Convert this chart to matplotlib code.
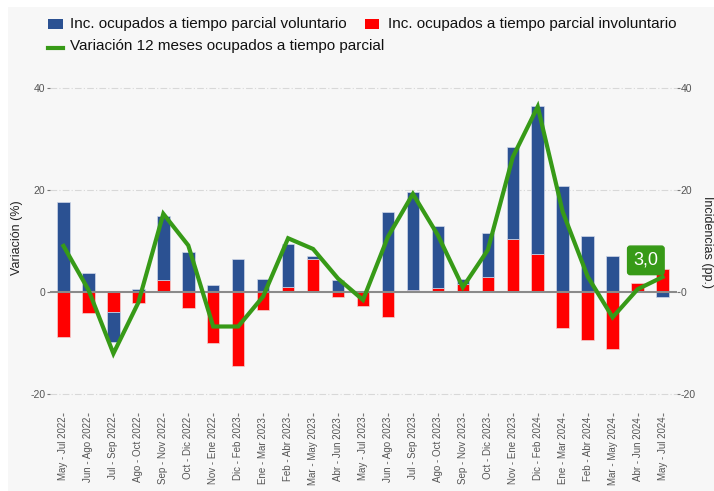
import matplotlib
matplotlib.use("Agg")
import matplotlib.pyplot as plt
from matplotlib.patches import Rectangle
from matplotlib.lines import Line2D
import numpy as np

plt.rcParams['font.family'] = ['Liberation Sans', 'DejaVu Sans']

categories = [
    "May - Jul 2022", "Jun - Ago 2022", "Jul - Sep 2022", "Ago - Oct 2022",
    "Sep - Nov 2022", "Oct - Dic 2022", "Nov - Ene 2022", "Dic - Feb 2023",
    "Ene - Mar 2023", "Feb - Abr 2023", "Mar - May 2023", "Abr - Jun 2023",
    "May - Jul 2023", "Jun - Ago 2023", "Jul - Sep 2023", "Ago - Oct 2023",
    "Sep - Nov 2023", "Oct - Dic 2023", "Nov - Ene 2023", "Dic - Feb 2024",
    "Ene - Mar 2024", "Feb - Abr 2024", "Mar - May 2024", "Abr - Jun 2024",
    "May - Jul 2024",
]
voluntario = [17.8, 3.7, -5.9, 0.65, 12.5, 8.0, 1.4, 6.6, 2.6, 8.5, 0.6, 2.4, 0.26,
              15.7, 19.1, 12.1, 1.1, 8.6, 17.9, 28.9, 20.8, 11.0, 7.1, 0.0, -0.85]
involuntario = [-8.8, -4.0, -3.9, -2.0, 2.5, -3.0, -9.9, -14.4, -3.4, 1.0, 6.5, -1.0, -2.6,
                -4.8, 0.5, 0.9, 1.6, 3.1, 10.5, 7.6, -6.9, -9.3, -11.1, 1.8, 4.6]
variacion = [9.1, 0.5, -12.0, -2.0, 15.4, 9.2, -6.7, -6.7, -0.8, 10.6, 8.5, 2.7, -1.5,
             10.9, 19.3, 11.2, 1.0, 8.3, 26.5, 36.4, 15.8, 3.1, -4.9, 0.6, 3.0]
yticks = [-20, 0, 20, 40]
legend_labels = ["Inc. ocupados a tiempo parcial voluntario",
                 "Inc. ocupados a tiempo parcial involuntario",
                 "Variación 12 meses ocupados a tiempo parcial"]
last_label = "3,0"

BLUE = "#2b5192"
RED = "#ff0000"
GREEN = "#379a17"
PANEL = "#f7f7f7"
TICKC = "#555555"

W, H = 714, 491
fig = plt.figure(figsize=(W / 100, H / 100), dpi=100, facecolor="white")

def fx(x):
    return x / W

def fy(y):
    return 1 - y / H

# light grey panel background
fig.add_artist(Rectangle((fx(8), 0), 1 - fx(8), fy(7), transform=fig.transFigure,
                         facecolor=PANEL, edgecolor="none", zorder=-10))

ax = fig.add_axes([49.5 / W, (H - 412.7) / H, 627 / W, 334.6 / H])
ax.set_facecolor("none")
ax.set_xlim(-0.56, len(categories) - 1 + 0.56)
ax.set_ylim(-23.6, 42)

x = np.arange(len(categories))
vol = np.array(voluntario)
inv = np.array(involuntario)
vol_bottom = np.where(np.sign(vol) == np.sign(inv), inv, 0.0)

for v in [-20, 20, 40]:
    ax.axhline(v, color="#d8d8d8", lw=0.8, linestyle=(0, (6, 2, 1, 2)), zorder=0)

ax.bar(x, inv, width=0.5, color=RED, edgecolor="#f2d0d0", linewidth=0.5, zorder=2)
ax.bar(x, vol, width=0.5, bottom=vol_bottom, color=BLUE, edgecolor="#d0d8e8",
       linewidth=0.5, zorder=2)
ax.axhline(0, color="#8a8a8a", lw=1.5, zorder=3)
ax.plot(x, variacion, color=GREEN, lw=3, zorder=4, solid_joinstyle="miter")

ax.annotate(last_label, xy=(x[-1], variacion[-1]), xytext=(-12, 12),
            textcoords="offset points", ha="center", va="center", fontsize=13,
            color="white", zorder=6,
            bbox=dict(boxstyle="round,pad=0.32,rounding_size=0.15", fc=GREEN, ec=GREEN))

for s in ax.spines.values():
    s.set_visible(False)

ax.set_xticks(x)
ax.set_xticklabels(categories, rotation=90, fontsize=7, color=TICKC)
ax.set_yticks(yticks)
ax.set_yticklabels([str(v) for v in yticks], fontsize=7.5, color=TICKC)
ax.tick_params(axis="both", length=2, width=0.8, color="#777777", pad=1)

ax2 = ax.twinx()
ax2.set_ylim(ax.get_ylim())
ax2.set_yticks(yticks)
ax2.set_yticklabels([str(v) for v in yticks], fontsize=7.5, color=TICKC)
ax2.tick_params(axis="y", length=2, width=0.8, color="#777777", pad=1)
for s in ax2.spines.values():
    s.set_visible(False)

fig.text(fx(17), fy(238), "Variación (%)", rotation=90, ha="center", va="center",
         fontsize=9, color="#222222")
fig.text(fx(701), fy(242), "Incidencias (pp.)", rotation=270, ha="left", va="center",
         fontsize=9, color="#222222")

# legend (manual flow layout)
LF = 11
fig.add_artist(Rectangle((fx(48), fy(29)), 15 / W, 10 / H, transform=fig.transFigure,
                         facecolor=BLUE, edgecolor="none"))
fig.text(fx(70), fy(24), legend_labels[0], ha="left", va="center", fontsize=LF, color="#111111")
fig.add_artist(Rectangle((fx(365), fy(29)), 14 / W, 10 / H, transform=fig.transFigure,
                         facecolor=RED, edgecolor="none"))
fig.text(fx(388), fy(24), legend_labels[1], ha="left", va="center", fontsize=LF, color="#111111")
fig.add_artist(Line2D([fx(48), fx(63)], [fy(48), fy(48)], transform=fig.transFigure,
                      color=GREEN, lw=3))
fig.text(fx(70), fy(46), legend_labels[2], ha="left", va="center", fontsize=LF, color="#111111")

fig.savefig("out.png", dpi=100, facecolor="white")
